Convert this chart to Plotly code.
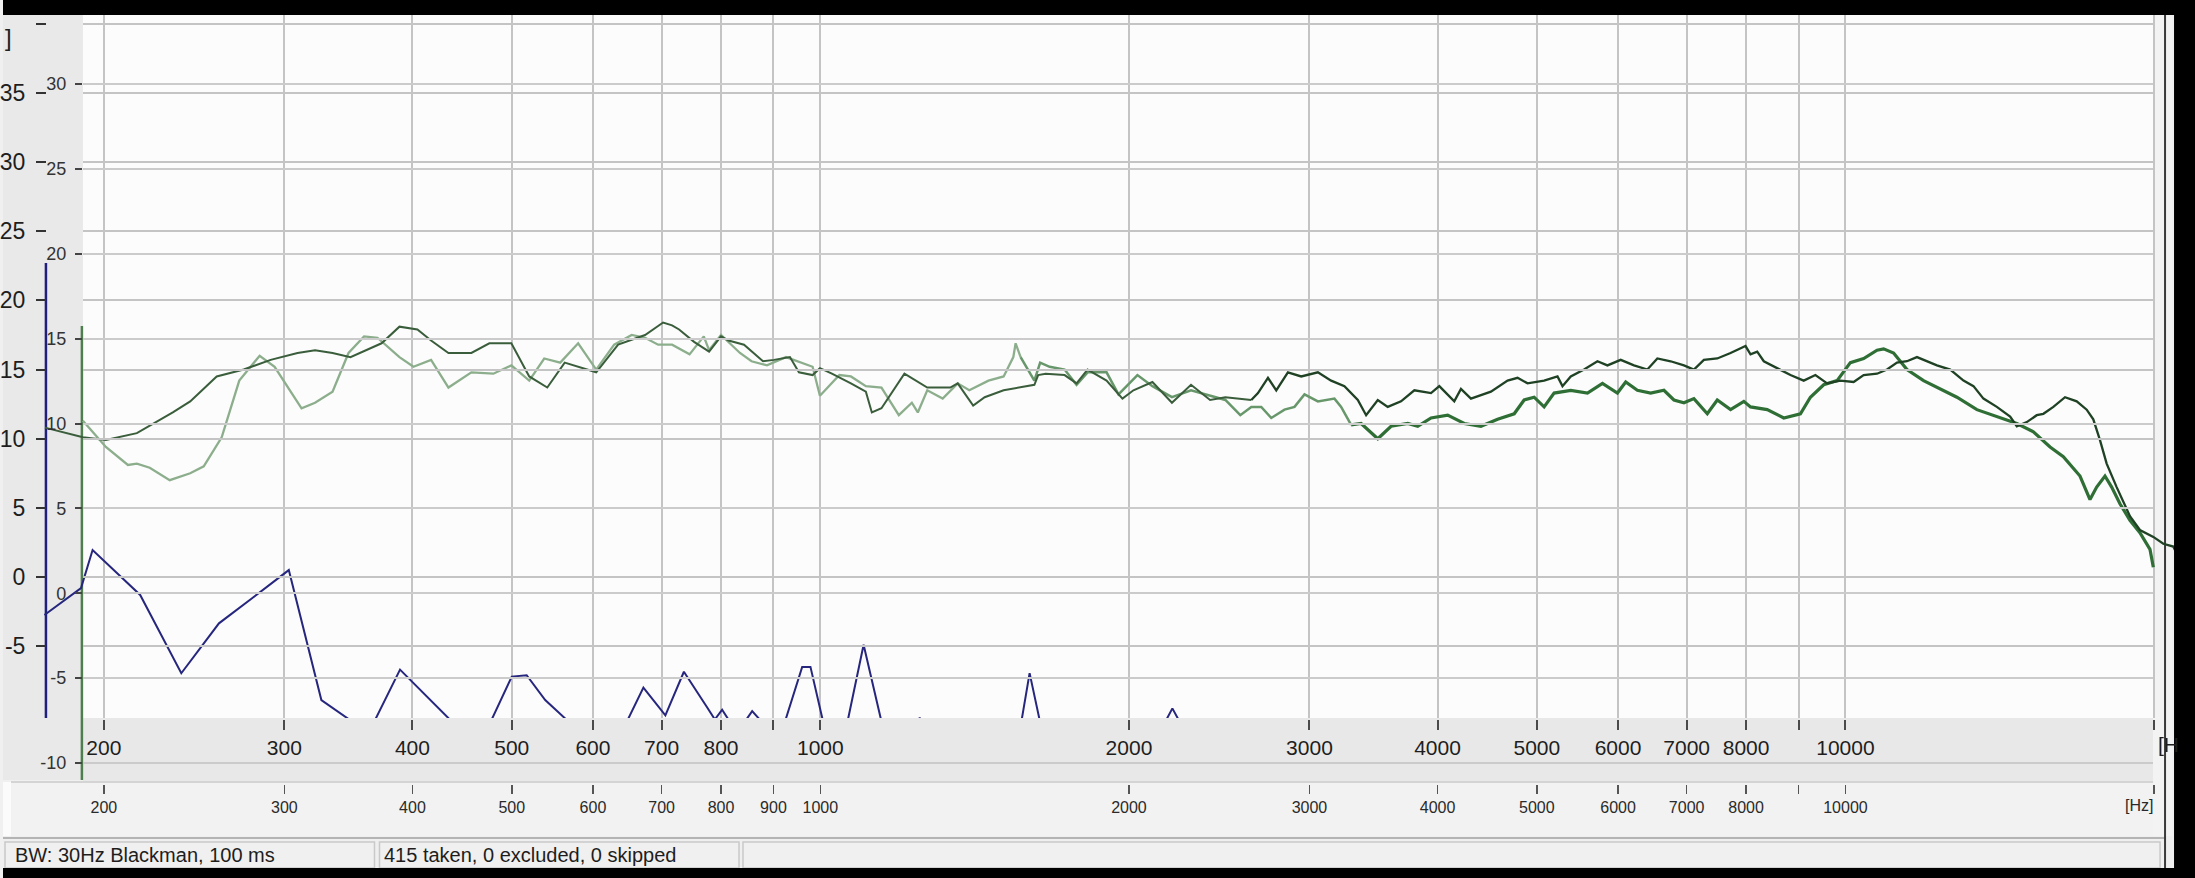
import plotly.graph_objects as go

W, H = 2195, 878

# ---------------- data ----------------
# dark green response curve: frequency [Hz], level [dB]
dg_freq = [175.2, 190.8, 200.9, 215.4, 233.5, 242.8, 257.7, 273.8, 290.9, 309.0, 321.4, 334.3, 348.0,
           373.2, 388.5, 404.5, 417.1, 433.7, 456.6, 475.4, 499.5, 520.0, 541.5, 563.1, 604.4, 634.9,
           674.5, 702.4, 716.7, 728.1, 753.0, 778.8, 800.0, 813.6, 842.4, 879.1, 901.0, 933.9, 953.0,
           982.7, 999.0, 1026.2, 1071.0, 1107.6, 1122.6, 1147.1, 1207.8, 1271.4, 1338.7, 1361.4, 1409.5,
           1446.4, 1509.3, 1617.2, 1631.0, 1658.7, 1730.8, 1778.0, 1822.4, 1901.9, 1971.1, 2020.3,
           2108.3, 2202.7, 2299.2, 2400.0, 2483.6, 2632.7, 2672.4, 2733.0, 2784.4, 2858.2, 2944.8,
           3057.2, 3149.8, 3245.2, 3344.2, 3407.2, 3497.6, 3576.9, 3685.2, 3797.0, 3941.9, 4016.0,
           4153.3, 4216.1, 4311.6, 4509.5, 4681.6, 4787.8, 4896.3, 5082.0, 5237.1, 5296.1, 5395.5,
           5559.0, 5728.7, 5858.7, 6035.9, 6218.6, 6408.4, 6553.9, 6752.3, 6956.9, 7114.7, 7276.1,
           7498.2, 7725.2, 7989.5, 8079.5, 8201.9, 8324.2, 8578.1, 8837.8, 9105.2, 9347.4, 9596.0,
           9886.6, 10185.9, 10416.9, 10734.8, 10978.2, 11227.2, 11481.9, 11742.3, 12008.6, 12281.1,
           12652.9, 13036.1, 13331.7, 13634.0, 14050.1, 14475.4, 14694.7, 15027.9, 15368.7, 15597.8,
           15951.6, 16375.8, 16811.3, 17192.5, 17448.9, 17713.2, 17981.1, 18389.0, 18946.0, 19375.6,
           19968.0, 20421.0, 20884.0, 21358.0]
dg_db = [10.8, 10.1, 9.9, 10.4, 11.9, 12.7, 14.5, 15.0, 15.7, 16.2, 16.4, 16.2, 15.9,
         16.9, 18.1, 17.9, 17.1, 16.2, 16.2, 16.9, 16.9, 14.5, 13.7, 15.5, 14.8, 16.8,
         17.5, 18.4, 18.2, 17.9, 17.0, 16.3, 17.4, 17.1, 16.8, 15.6, 15.7, 15.9, 14.8,
         14.6, 15.1, 14.7, 14.0, 13.4, 11.9, 12.2, 14.7, 13.7, 13.7, 14.0, 12.4,
         13.0, 13.5, 13.9, 14.6, 14.7, 14.6, 14.0, 15.0, 14.2, 12.9, 13.5,
         14.1, 12.6, 13.9, 12.8, 13.0, 12.8, 13.3, 14.4, 13.5, 14.8, 14.5,
         14.8, 14.2, 13.8, 12.8, 11.7, 12.8, 12.3, 12.7, 13.5, 13.3, 13.8,
         12.7, 13.6, 12.9, 13.4, 14.2, 14.4, 14.0, 14.2, 14.5, 13.8, 14.5,
         15.0, 15.6, 15.3, 15.7, 15.3, 15.0, 15.8, 15.6, 15.3, 15.0, 15.7,
         15.8, 16.2, 16.7, 16.1, 16.3, 15.6, 15.1, 14.6, 14.2, 14.6, 14.0,
         14.2, 14.1, 14.6, 14.7, 15.0, 15.5, 15.6, 15.9, 15.6, 15.3,
         15.0, 14.2, 13.8, 12.9, 12.3, 11.6, 10.9, 11.2, 11.7, 11.8,
         12.3, 13.0, 12.7, 12.1, 11.4, 9.9, 8.2, 6.5, 4.4, 3.4,
         2.9, 2.4, 2.2, 0.7]

# light green response curve
lg_freq = [190.8, 200.9, 211.1, 215.4, 221.7, 231.9, 242.8, 250.3, 260.6, 271.1, 283.8, 293.5, 311.8,
           321.4, 334.3, 346.5, 358.8, 369.8, 388.5, 400.9, 417.1, 433.7, 456.6, 479.7, 499.5, 520.0,
           537.8, 557.5, 580.4, 604.4, 629.3, 654.5, 674.5, 694.6, 716.7, 745.4, 769.6, 778.8, 800.0,
           834.8, 856.7, 887.0, 925.6, 957.3, 982.7, 999.0, 1043.7, 1071.0, 1107.6, 1147.1, 1192.7,
           1228.1, 1244.7, 1271.4, 1316.2, 1361.4, 1397.3, 1458.7, 1509.3, 1542.5, 1550.5, 1568.0,
           1617.2, 1638.3, 1673.6, 1730.8, 1778.0, 1822.4, 1901.9, 1953.5, 2038.5, 2108.3, 2202.7,
           2299.2, 2421.1, 2483.6, 2568.4, 2632.7, 2692.2, 2753.3, 2836.5, 2900.9, 2966.7, 3057.2,
           3173.2, 3221.3, 3294.3, 3369.0, 3497.6, 3603.6, 3741.1, 3826.0, 3941.9, 4092.3, 4247.4,
           4409.5, 4577.7, 4751.4, 4859.1, 4969.3, 5082.0, 5197.3, 5395.5, 5601.7, 5793.5, 5991.6,
           6104.2, 6266.3, 6456.1, 6651.7, 6802.4, 6956.9, 7114.7, 7331.9, 7498.2, 7725.2, 7959.2,
           8079.5, 8387.9, 8706.0, 9038.1, 9243.1, 9523.2, 9813.6, 10110.9, 10416.9, 10734.8,
           10894.9, 11142.0, 11481.9, 11917.4, 12372.2, 12844.6, 13433.7, 14050.1, 14694.7, 15252.0,
           15834.1, 16313.3, 16936.0, 17320.0, 17582.4, 17912.9, 18184.0, 18525.8, 18946.0, 19375.6,
           19819.6, 19968.0]
lg_db = [11.3, 9.4, 8.1, 8.2, 7.9, 7.0, 7.5, 8.0, 10.1, 14.2, 16.0, 15.2, 12.2,
         12.6, 13.4, 16.2, 17.4, 17.3, 15.9, 15.2, 15.7, 13.7, 14.8, 14.7, 15.3, 14.2,
         15.8, 15.5, 16.9, 15.0, 16.8, 17.5, 17.3, 16.8, 16.8, 16.1, 17.4, 16.4, 17.5,
         16.2, 15.6, 15.3, 15.9, 15.5, 15.2, 13.1, 14.6, 14.5, 13.8, 13.7, 11.7,
         12.6, 11.9, 13.5, 12.9, 14.0, 13.5, 14.2, 14.5, 15.9, 16.9, 15.9,
         14.2, 15.5, 15.2, 15.0, 13.9, 14.8, 14.8, 13.2, 14.6, 13.8, 13.0,
         13.5, 13.0, 12.8, 11.7, 12.3, 12.3, 11.5, 12.1, 12.3, 13.2, 12.7,
         12.9, 12.3, 11.0, 11.1, 10.0, 10.9, 11.1, 10.9, 11.5, 11.7, 11.1,
         10.9, 11.4, 11.8, 12.8, 13.0, 12.3, 13.3, 13.5, 13.3, 14.0, 13.3,
         14.1, 13.5, 13.3, 13.5, 12.8, 12.6, 12.9, 11.8, 12.8, 12.1, 12.7,
         12.3, 12.1, 11.5, 11.8, 13.0, 13.9, 14.2, 15.5, 15.8, 16.4,
         16.5, 16.2, 15.0, 14.2, 13.6, 13.0, 12.1, 11.6, 11.1, 10.5,
         9.4, 8.7, 7.3, 5.6, 6.5, 7.3, 6.5, 5.3, 4.1, 3.2,
         2.0, 0.7]

# blue curve (parts below the graph floor are hidden by the axis band)
blue_freq = [175, 190, 195, 217, 238, 259, 279, 303, 326, 347, 357, 365, 368, 389, 435, 450, 470, 478,
             500, 517, 539, 565, 580, 635, 649, 672, 706, 736, 775, 789, 802, 815, 845, 858, 875, 925,
             960, 978, 1005, 1030, 1050, 1064, 1102, 1145, 1160, 1240, 1250, 1260, 1560, 1572, 1600,
             1636, 1660, 2150, 2176, 2205, 2235, 2260, 2400]
blue_db = [-2.75, -0.8, 1.95, -1.3, -6.96, -3.35, -1.54, 0.5, -8.9, -10.3, -12, -12, -10.3, -6.7, -10.3,
           -12, -12, -10.3, -7.2, -7.1, -8.9, -10.3, -12, -12, -10.3, -8.0, -10.0, -6.85, -9.4, -10.3,
           -9.6, -10.4, -10.4, -9.7, -10.4, -10.3, -6.5, -6.5, -10.3, -12, -12, -10.3, -4.9, -10.3,
           -12, -12, -10.15, -12, -12, -10.3, -6.95, -10.3, -12, -12, -10.3, -9.5, -10.3, -12, -12]

# axis ticks
x_ticks = [200, 300, 400, 500, 600, 700, 800, 900, 1000, 2000, 3000, 4000, 5000, 6000, 7000, 8000,
           9000, 10000, 20000]
x_labels_row1 = ["200", "300", "400", "500", "600", "700", "800", "", "1000", "2000", "3000", "4000",
                 "5000", "6000", "7000", "8000", "", "10000", ""]
x_labels_row2 = ["200", "300", "400", "500", "600", "700", "800", "900", "1000", "2000", "3000", "4000",
                 "5000", "6000", "7000", "8000", "", "10000", ""]
outer_ticks = [-5, 0, 5, 10, 15, 20, 25, 30, 35, 40]
outer_labels = ["-5", "0", "5", "10", "15", "20", "25", "30", "35", ""]
inner_ticks = [-10, -5, 0, 5, 10, 15, 20, 25, 30]
inner_labels = ["-10", "-5", "0", "5", "10", "15", "20", "25", "30"]

status_left = "BW: 30Hz Blackman, 100 ms"
status_mid = "415 taken, 0 excluded, 0 skipped"

# ---------------- helpers ----------------
def px(X):
    return X / W

def py(Y):
    return 1 - Y / H

def seg(freqs, vals, lo, hi):
    xs, ys = [], []
    for f, v in zip(freqs, vals):
        if lo <= f <= hi:
            xs.append(f)
            ys.append(v)
    return xs, ys

FONT = "Liberation Sans, Arial, sans-serif"
GRID = "#c4c4c4"
XRANGE = [2.20264, 4.34099]

fig = go.Figure()

# light green curve (three tone segments)
for lo, hi, col, wd in [(0, 1568.0, "#8cae8c", 2.3), (1568.0, 3294.3, "#67976a", 2.5),
                        (3294.3, 30000, "#2f6f36", 3.2)]:
    xs, ys = seg(lg_freq, lg_db, lo, hi)
    fig.add_trace(go.Scatter(x=xs, y=ys, mode="lines", line=dict(color=col, width=wd),
                             xaxis="x", yaxis="y", hoverinfo="skip", showlegend=False))

# dark green curve
for lo, hi, col, wd in [(0, 2632.7, "#3a5d3b", 2.0), (2632.7, 30000, "#1f4124", 2.3)]:
    xs, ys = seg(dg_freq, dg_db, lo, hi)
    fig.add_trace(go.Scatter(x=xs, y=ys, mode="lines", line=dict(color=col, width=wd),
                             xaxis="x", yaxis="y", hoverinfo="skip", showlegend=False))

# blue curve
fig.add_trace(go.Scatter(x=blue_freq, y=blue_db, mode="lines", line=dict(color="#26267e", width=2),
                         xaxis="x", yaxis="y", hoverinfo="skip", showlegend=False))

# empty traces that create the helper subplots for the grid / label axes
for xa, ya in [("x2", "y2"), ("x3", "y3"), ("x4", "y4")]:
    fig.add_trace(go.Scatter(x=[None], y=[None], xaxis=xa, yaxis=ya, mode="lines",
                             hoverinfo="skip", showlegend=False))

# ---------------- background shapes ----------------
shapes = []

def rect(x0, y0, x1, y1, fill, layer="below", line_color=None, lw=0):
    shapes.append(dict(type="rect", xref="paper", yref="paper", x0=px(x0), x1=px(x1),
                       y0=py(y1), y1=py(y0), fillcolor=fill, layer=layer,
                       line=dict(width=lw, color=line_color or fill)))

def line(x0, y0, x1, y1, color, width, layer="below"):
    shapes.append(dict(type="line", xref="paper", yref="paper", x0=px(x0), x1=px(x1),
                       y0=py(y0), y1=py(y1), layer=layer, line=dict(color=color, width=width)))

rect(80, 14, 2153, 718, "#fcfcfc")            # graph area
rect(0, 14, 80, 780, "#e9e9e9")               # left label panel
rect(80, 718, 2153, 782, "#e8e8e8")           # first frequency band
rect(8, 782, 2153, 836, "#f2f2f2")            # second frequency band
rect(0, 782, 8, 836, "#fbfbfb")
rect(2153, 14, 2172, 836, "#f3f3f3")          # right margin
line(8, 782, 2153, 782, "#d4d4d4", 2)
# status bar
rect(0, 836, 2172, 868, "#efefef")
line(0, 838, 2165, 838, "#b4b4b4", 2)
rect(2, 842, 372, 868, "#f0f0f0", line_color="#c9c9c9", lw=1.5)
rect(377, 842, 737, 868, "#f0f0f0", line_color="#c9c9c9", lw=1.5)
rect(741, 842, 2160, 868, "#f0f0f0", line_color="#c9c9c9", lw=1.5)
# graph frame / axis lines
line(2165, 14, 2165, 868, "#3a3a3a", 2)
line(43, 263, 43, 718, "#1f1f7c", 2.5)        # blue graph axis line
line(79, 326, 79, 780, "#4e7d4e", 2.5)        # green graph axis line
# outer black borders (screenshot frame)
rect(0, 0, W, 15, "#000000", layer="above")
rect(0, 868, W, H, "#000000", layer="above")
rect(2174, 0, W, H, "#000000", layer="above")

# ---------------- annotations ----------------
annotations = [
    dict(text="[H", x=px(2156), y=py(744), xref="paper", yref="paper", xanchor="left",
         yanchor="middle", showarrow=False, font=dict(family=FONT, size=21, color="#1e1e1e")),
    dict(text="[Hz]", x=px(2139), y=py(805), xref="paper", yref="paper", xanchor="center",
         yanchor="middle", showarrow=False, font=dict(family=FONT, size=16, color="#2a2a2a")),
    dict(text="]", x=px(0), y=py(38), xref="paper", yref="paper", xanchor="left",
         yanchor="middle", showarrow=False, font=dict(family=FONT, size=24, color="#222")),
    dict(text=status_left, x=px(10), y=py(855), xref="paper", yref="paper", xanchor="left",
         yanchor="middle", showarrow=False, font=dict(family=FONT, size=20, color="#1e1e1e")),
    dict(text=status_mid, x=px(380), y=py(855), xref="paper", yref="paper", xanchor="left",
         yanchor="middle", showarrow=False, font=dict(family=FONT, size=20, color="#1e1e1e")),
]

fig.update_layout(
    width=W, height=H,
    margin=dict(l=0, r=0, t=0, b=0),
    paper_bgcolor="#f0f0f0",
    plot_bgcolor="rgba(0,0,0,0)",
    showlegend=False,
    shapes=shapes,
    annotations=annotations,
    # trace subplot + first frequency row
    xaxis=dict(type="log", domain=[0, 1], range=XRANGE, anchor="free", position=py(719),
               showgrid=True, gridcolor=GRID, gridwidth=2, zeroline=False, showline=False,
               tickmode="array", tickvals=x_ticks, ticktext=x_labels_row1,
               ticks="outside", ticklen=10, tickwidth=2, tickcolor="#4a4a4a",
               tickfont=dict(family=FONT, size=21, color="#1e1e1e"), fixedrange=True),
    yaxis=dict(domain=[py(718), 1], range=[-10.195, 41.721], visible=False, showgrid=False,
               zeroline=False, anchor="x", fixedrange=True),
    # outer dB scale + its grid
    xaxis2=dict(domain=[px(80), px(2153)], range=[0, 1], visible=False, showgrid=False,
                zeroline=False, anchor="y2"),
    yaxis2=dict(domain=[py(718), 1], range=[-10.195, 41.721], anchor="free", position=px(43),
                showgrid=True, gridcolor=GRID, gridwidth=2, zeroline=False, showline=False,
                tickmode="array", tickvals=outer_ticks, ticktext=outer_labels,
                ticks="outside", ticklen=10, tickwidth=2, tickcolor="#333",
                ticklabelstandoff=6,
                tickfont=dict(family=FONT, size=23, color="#1e1e1e"), fixedrange=True),
    # inner dB scale + its grid
    xaxis3=dict(domain=[px(80), px(2153)], range=[0, 1], visible=False, showgrid=False,
                zeroline=False, anchor="y3"),
    yaxis3=dict(domain=[py(777), py(14)], range=[-10.825, 34.124], anchor="free", position=px(79),
                showgrid=True, gridcolor="#cbcbcb", gridwidth=2, zeroline=False, showline=False,
                tickmode="array", tickvals=inner_ticks, ticktext=inner_labels,
                ticks="outside", ticklen=7, tickwidth=2, tickcolor="#444",
                ticklabelstandoff=5,
                tickfont=dict(family=FONT, size=18, color="#333"), fixedrange=True),
    # second frequency row
    xaxis4=dict(type="log", domain=[0, 1], range=XRANGE, anchor="free", position=py(784),
                showgrid=False, zeroline=False, showline=False,
                tickmode="array", tickvals=x_ticks, ticktext=x_labels_row2,
                ticks="outside", ticklen=9, tickwidth=1.5, tickcolor="#555",
                tickfont=dict(family=FONT, size=16, color="#2a2a2a"), fixedrange=True),
    yaxis4=dict(domain=[0, 0.04], range=[0, 1], visible=False, showgrid=False, zeroline=False,
                anchor="x4"),
)

fig.write_html("out.html",
               config={"displayModeBar": False, "staticPlot": True},
               post_script="document.body.style.margin='0';document.body.style.padding='0';")
